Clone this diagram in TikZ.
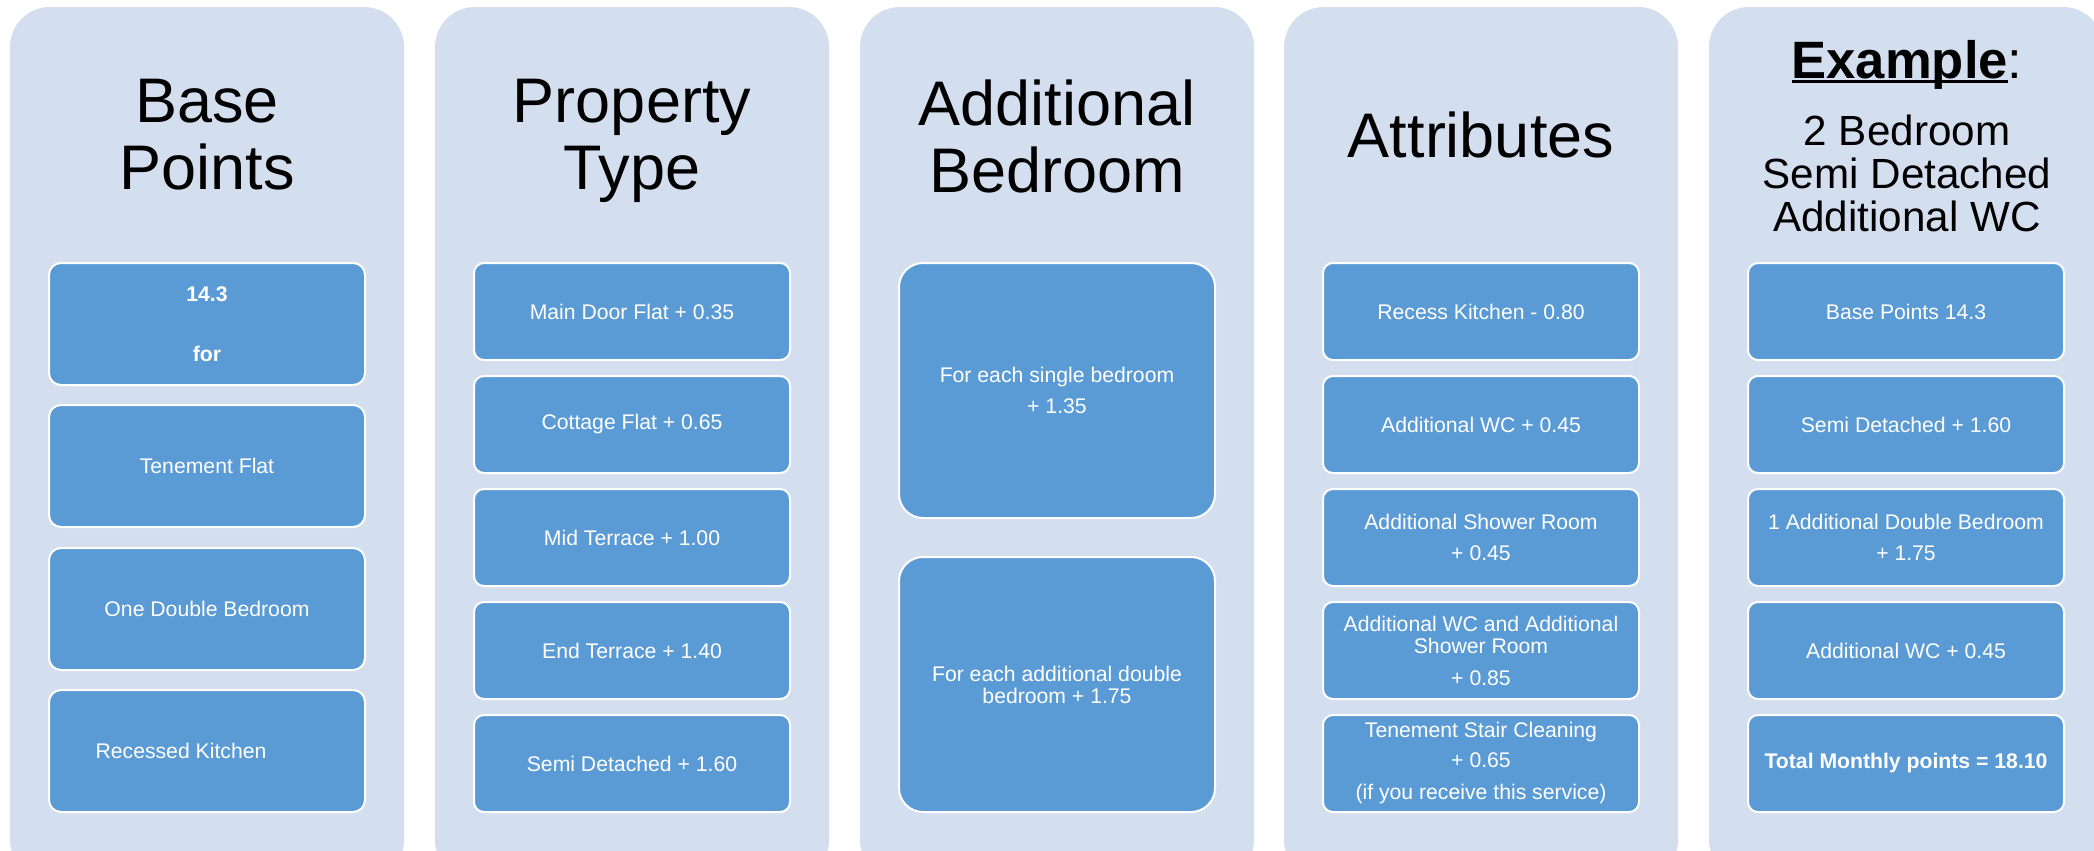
\documentclass[tikz,border=0pt]{standalone}
\usepackage{fontspec}
\setmainfont{Liberation Sans}
\definecolor{colbg}{HTML}{D3DEEF}
\definecolor{boxbg}{HTML}{5B9BD5}
\newcommand\exul[1]{\setbox0\hbox{#1}\rlap{\rule[-2pt]{\wd0}{1.5pt}}\box0}
\tikzset{
  column/.style={fill=colbg, draw=none, rounded corners=20pt, minimum width=197pt, minimum height=436.5pt, inner sep=0pt},
  cell/.style={fill=boxbg, draw=white, line width=1pt, text=white, align=center, inner sep=0pt,
    minimum width=158pt, font=\fontsize{10.6}{11}\selectfont},
  small/.style={cell, minimum height=48.5pt, rounded corners=5pt},
  mid/.style={cell, minimum height=61pt, rounded corners=6pt},
  big/.style={cell, minimum height=127.5pt, rounded corners=12pt},
  title/.style={align=center, inner sep=0pt, anchor=north, font=\fontsize{31.5}{33.5}\selectfont},
}
\begin{document}
\begin{tikzpicture}[x=0.5pt,y=-0.5pt]
\useasboundingbox (0,0) rectangle (2094,851);
\clip (0,0) rectangle (2094,851);
\fill[white] (0,0) rectangle (2094,851);

% columns
\node[column] (c1) at (207,443.5) {};
\node[column] (c2) at (632,443.5) {};
\node[column] (c3) at (1057,443.5) {};
\node[column] (c4) at (1481,443.5) {};
\node[column] (c5) at (1906,443.5) {};

% titles
\node[title] (t1) at (207,79) {Base\\Points};
\node[title] (t2) at (632,79) {Property\\Type};
\node[title] (t3) at (1057,79) {Additional\\Bedroom};
\node[title] (t4) at (1481,111) {Attributes};
\node[anchor=base, inner sep=0pt, font=\fontsize{26.3}{28}\selectfont] (t5) at (1907,78.8) {\exul{\bfseries Example}:};
\node[title, font=\fontsize{21.1}{21.5}\selectfont] (t5b) at (1907,114.4) {2 Bedroom\\Semi Detached\\Additional WC};

% column 1
\node[mid] (b11) at (207,324) {\bfseries 14.3\\[19pt]\bfseries for};
\node[mid] (b12) at (207,466) {Tenement Flat};
\node[mid] (b13) at (207,609) {One Double Bedroom};
\node[mid] (b14) at (207,751) {Recessed Kitchen\hspace*{26pt}};

% column 2
\node[small] (b21) at (632,311.5) {Main Door Flat + 0.35};
\node[small] (b22) at (632,424.5) {Cottage Flat + 0.65};
\node[small] (b23) at (632,537.5) {Mid Terrace + 1.00};
\node[small] (b24) at (632,650.5) {End Terrace + 1.40};
\node[small] (b25) at (632,763.5) {Semi Detached + 1.60};

% column 3
\node[big] (b31) at (1057,390.5) {For each single bedroom\\[4.5pt]+ 1.35};
\node[big] (b32) at (1057,684.5) {For each additional double\\bedroom + 1.75};

% column 4
\node[small] (b41) at (1481,311.5) {Recess Kitchen - 0.80};
\node[small] (b42) at (1481,424.5) {Additional WC + 0.45};
\node[small] (b43) at (1481,537.5) {Additional Shower Room\\[4.5pt]+ 0.45};
\node[small] (b44) at (1481,650.5) {Additional WC and Additional\\Shower Room\\[5pt]+ 0.85};
\node[small] (b45) at (1481,763.5) {Tenement Stair Cleaning\\[4pt]+ 0.65\\[5pt](if you receive this service)};

% column 5
\node[small] (b51) at (1906,311.5) {Base Points 14.3};
\node[small] (b52) at (1906,424.5) {Semi Detached + 1.60};
\node[small] (b53) at (1906,537.5) {1 Additional Double Bedroom\\[4.5pt]+ 1.75};
\node[small] (b54) at (1906,650.5) {Additional WC + 0.45};
\node[small] (b55) at (1906,763.5) {\bfseries Total Monthly points = 18.10};
\end{tikzpicture}
\end{document}
